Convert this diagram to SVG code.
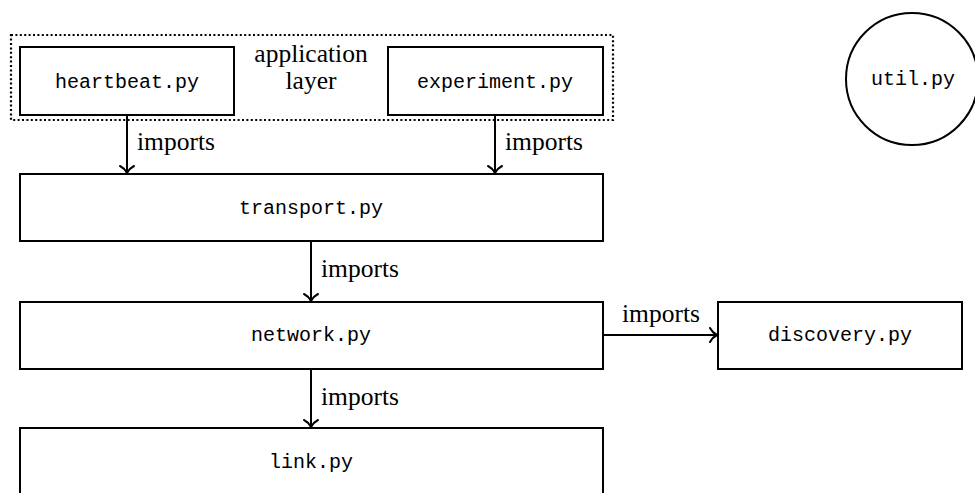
<svg xmlns="http://www.w3.org/2000/svg" width="975" height="493" viewBox="0 0 975 493">
<style>
.box{fill:#fff;stroke:#000;stroke-width:2}
.tt{font-family:"Liberation Mono","DejaVu Sans Mono",monospace;font-size:20px;fill:#000;text-anchor:middle}
.rm{font-family:"Liberation Serif","DejaVu Serif",serif;font-size:25.5px;fill:#000}
.edge{stroke:#000;stroke-width:2;fill:none}
</style>
<defs>
<marker id="to" markerUnits="userSpaceOnUse" markerWidth="20" markerHeight="20" viewBox="-10 -10 20 20" refX="0" refY="0" orient="auto">
<path d="M -7 -7 C -5 -3 -2 -1 0 0 C -2 1 -5 3 -7 7" fill="none" stroke="#000" stroke-width="2" stroke-linecap="round"/>
</marker>
</defs>
<g id="application-layer">
<rect x="11" y="35" width="602" height="85" fill="none" stroke="#000" stroke-width="2.2" stroke-dasharray="2 2.4"/>
<text class="rm" x="311" y="62" text-anchor="middle">application</text>
<text class="rm" x="311" y="89" text-anchor="middle">layer</text>
</g>
<g id="heartbeat">
<rect class="box" x="20" y="47" width="214" height="68"/>
<text class="tt" x="127" y="88">heartbeat.py</text>
</g>
<g id="experiment">
<rect class="box" x="388" y="47" width="215" height="68"/>
<text class="tt" x="495" y="88">experiment.py</text>
</g>
<g id="util">
<circle class="box" cx="912" cy="79" r="66"/>
<text class="tt" x="913" y="85">util.py</text>
</g>
<g id="transport">
<rect class="box" x="20" y="174" width="583" height="67"/>
<text class="tt" x="311" y="214">transport.py</text>
</g>
<g id="network">
<rect class="box" x="20" y="302" width="583" height="67"/>
<text class="tt" x="311" y="341">network.py</text>
</g>
<g id="discovery">
<rect class="box" x="718" y="302" width="244" height="67"/>
<text class="tt" x="840" y="341">discovery.py</text>
</g>
<g id="link">
<rect class="box" x="20" y="428" width="583" height="67"/>
<text class="tt" x="311" y="468">link.py</text>
</g>
<g id="connectors">
<line class="edge" x1="127" y1="115" x2="127" y2="173" marker-end="url(#to)"/>
<text class="rm" x="137" y="150">imports</text>
<line class="edge" x1="495" y1="115" x2="495" y2="173" marker-end="url(#to)"/>
<text class="rm" x="505" y="150">imports</text>
<line class="edge" x1="311" y1="241" x2="311" y2="301" marker-end="url(#to)"/>
<text class="rm" x="321" y="277">imports</text>
<line class="edge" x1="311" y1="369" x2="311" y2="427" marker-end="url(#to)"/>
<text class="rm" x="321" y="405">imports</text>
<line class="edge" x1="603" y1="335" x2="717" y2="335" marker-end="url(#to)"/>
<text class="rm" x="622" y="322">imports</text>
</g>
</svg>
